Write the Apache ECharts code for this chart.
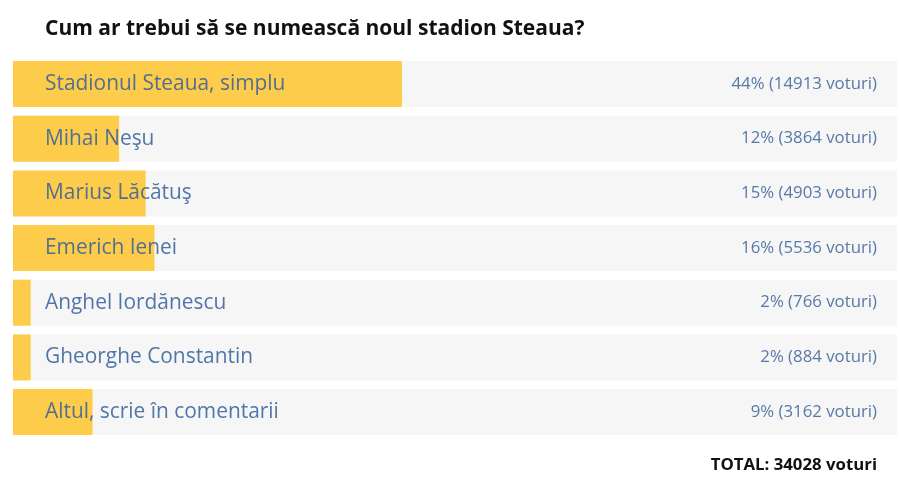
<!DOCTYPE html>
<html>
<head>
<meta charset="utf-8">
<style>
  html, body { margin: 0; padding: 0; background: #fff; }
  #chart { width: 900px; height: 487px; }
</style>
<script src="https://cdn.jsdelivr.net/npm/echarts@6/dist/echarts.min.js"></script>
</head>
<body>
<div id="chart"></div>
<script>
const options = [
    'Stadionul Steaua, simplu',
    'Mihai Neşu',
    'Marius Lăcătuş',
    'Emerich Ienei',
    'Anghel Iordănescu',
    'Gheorghe Constantin',
    'Altul, scrie în comentarii'
];
const percent = [44, 12, 15, 16, 2, 2, 9];
const votes = [14913, 3864, 4903, 5536, 766, 884, 3162];
const fullScale = [100, 100, 100, 100, 100, 100, 100];
const totalVotes = 34028;

const chart = echarts.init(document.getElementById('chart'));
const font = '"Open Sans", "Noto Sans", sans-serif';

chart.setOption({
    animation: false,
    title: [
        {
            text: 'Cum ar trebui să se numească noul stadion Steaua?',
            left: 40, top: 14,
            textStyle: { fontFamily: font, fontSize: 21, fontWeight: 'bold', color: '#111' }
        },
        {
            text: `TOTAL: ${totalVotes} voturi`,
            right: 18, top: 452,
            textStyle: { fontFamily: font, fontSize: 16.8, fontWeight: 'bold', color: '#111' }
        }
    ],
    grid: { left: 13, right: 3, top: 56.7, height: 382.7 },
    xAxis: { type: 'value', min: 0, max: 100, show: false },
    yAxis: {
        type: 'category', data: options, inverse: true, show: false
    },
    series: [
        {
            type: 'bar',
            data: fullScale,
            barWidth: 46,
            silent: true,
            itemStyle: { color: '#f6f6f6' },
            label: {
                show: true,
                position: 'insideRight',
                distance: 20,
                fontFamily: font,
                fontSize: 16.8,
                color: '#5879a6',
                formatter: p => `${percent[p.dataIndex]}% (${votes[p.dataIndex]} voturi)`
            }
        },
        {
            type: 'bar',
            data: percent,
            barWidth: 46,
            barGap: '-100%',
            itemStyle: { color: '#fecc4b' },
            label: {
                show: true,
                position: 'insideLeft',
                distance: 32,
                fontFamily: font,
                fontSize: 20.9,
                color: 'rgba(50,95,155,0.85)',
                formatter: '{b}'
            }
        }
    ]
});

window.addEventListener('resize', () => chart.resize());
</script>
</body>
</html>
